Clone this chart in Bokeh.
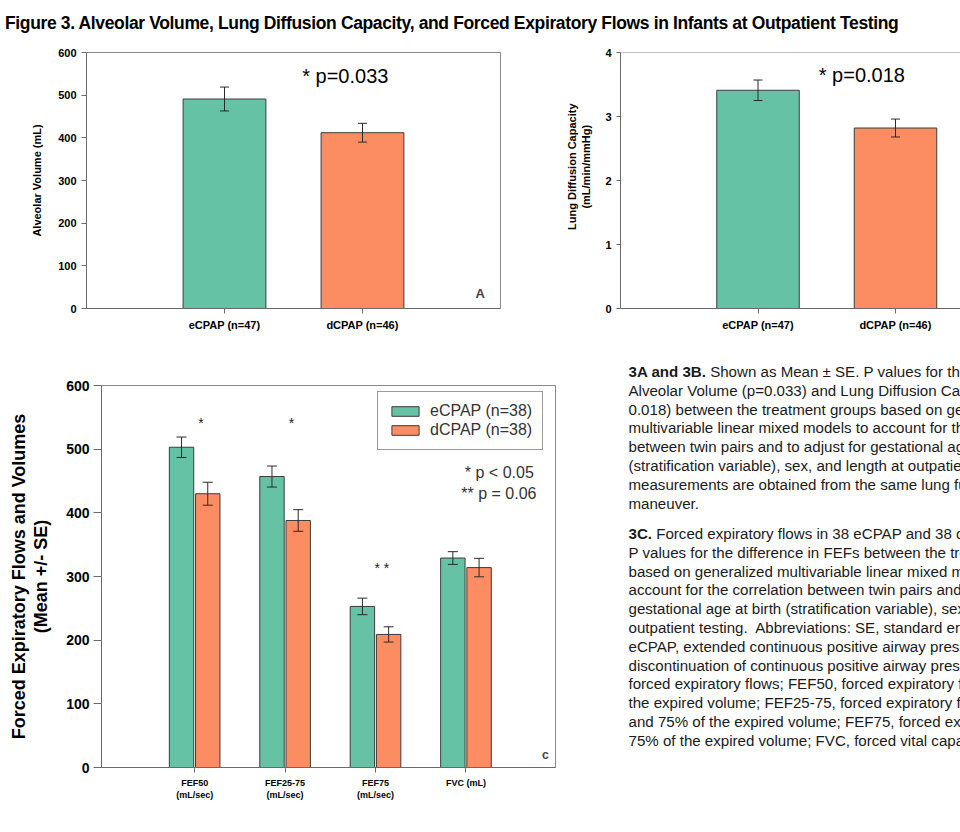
from bokeh.plotting import figure
from bokeh.models import (ColumnDataSource, Whisker, TeeHead, FixedTicker, Span,
                          Label, Div)
from bokeh.layouts import column, row
from bokeh.embed import file_html
from bokeh.resources import INLINE
from bokeh.core.properties import value
import numpy as np

# ---------------- data ----------------
TITLE = ("Figure 3. Alveolar Volume, Lung Diffusion Capacity, and Forced "
         "Expiratory Flows in Infants at Outpatient Testing")

groups_ab = ["eCPAP (n=47)", "dCPAP (n=46)"]
alv_mean = [491, 412]
alv_se = [28, 22]
dlco_mean = [3.41, 2.82]
dlco_se = [0.16, 0.14]

fef_cats = ["FEF50\n(mL/sec)", "FEF25-75\n(mL/sec)", "FEF75\n(mL/sec)", "FVC (mL)"]
ecpap_fef = [503, 457, 253, 329]
ecpap_fef_se = [16, 16.5, 13, 10]
dcpap_fef = [430, 388, 209, 314]
dcpap_fef_se = [18, 17, 12, 14.5]
sig_marks = ["*", "*", "* *", ""]
legend_labels = ["eCPAP (n=38)", "dCPAP (n=38)"]

yticks_a = [0, 100, 200, 300, 400, 500, 600]
yticks_b = [0, 1, 2, 3, 4]
yticks_c = [0, 100, 200, 300, 400, 500, 600]

para1 = [
    "<b>3A and 3B.</b> Shown as Mean \u00b1 SE. P values for the difference",
    "Alveolar Volume (p=0.033) and Lung Diffusion Capacity (p=",
    "0.018) between the treatment groups based on generalized",
    "multivariable linear mixed models to account for the correlation",
    "between twin pairs and to adjust for gestational age at birth",
    "(stratification variable), sex, and length at outpatient testing.",
    "measurements are obtained from the same lung function",
    "maneuver.",
]
para2 = [
    "<b>3C.</b> Forced expiratory flows in 38 eCPAP and 38 dCPAP",
    "P values for the difference in FEFs between the treatment",
    "based on generalized multivariable linear mixed models to",
    "account for the correlation between twin pairs and to adjust",
    "gestational age at birth (stratification variable), sex, and",
    "outpatient testing.&nbsp; Abbreviations: SE, standard error;",
    "eCPAP, extended continuous positive airway pressure;",
    "discontinuation of continuous positive airway pressure;",
    "forced expiratory flows; FEF50, forced expiratory flow at",
    "the expired volume; FEF25-75, forced expiratory flow between",
    "and 75% of the expired volume; FEF75, forced expiratory flow",
    "75% of the expired volume; FVC, forced vital capacity.",
]

# ---------------- style ----------------
FONT = "Liberation Sans"
GREEN = "#66C2A5"
ORANGE = "#FC8D62"
BAR_LINE = "#3c3c3c"
ERR = "#2a2a2a"
NB = "\u00a0"


def base_style(p, tick_font_size, tick_out, standoff, label_size, label_standoff):
    p.xgrid.grid_line_color = None
    p.ygrid.grid_line_color = None
    p.background_fill_color = "white"
    p.border_fill_color = "white"
    for ax in (p.xaxis[0], p.yaxis[0]):
        ax.axis_line_color = "#6a6a6a"
        ax.major_tick_line_color = "#6a6a6a"
        ax.minor_tick_line_color = None
        ax.major_tick_in = 0
        ax.major_label_text_font = FONT
        ax.major_label_text_font_style = "bold"
        ax.major_label_text_color = "black"
        ax.axis_label_text_font = FONT
        ax.axis_label_text_font_style = "bold"
        ax.axis_label_text_color = "black"
    p.yaxis.major_tick_out = tick_out
    p.yaxis.major_label_standoff = standoff
    p.yaxis.major_label_text_font_size = tick_font_size
    p.yaxis.axis_label_text_font_size = label_size
    p.yaxis.axis_label_standoff = label_standoff
    p.xaxis.major_tick_out = 5
    p.xaxis.major_label_standoff = 5


def add_whisker(p, x, mean, se, head):
    src = ColumnDataSource(dict(
        x=x,
        upper=[m + s for m, s in zip(mean, se)],
        lower=[m - s for m, s in zip(mean, se)],
    ))
    w = Whisker(base="x", upper="upper", lower="lower", source=src,
                dimension="height", line_color=ERR, line_width=1,
                level="annotation",
                upper_head=TeeHead(size=head, line_color=ERR, line_width=1),
                lower_head=TeeHead(size=head, line_color=ERR, line_width=1))
    p.add_layout(w)


# ---------------- panel A ----------------
xa = np.arange(1, len(groups_ab) + 1)
pA = figure(width=540, height=313, x_range=(0, 3), y_range=(0, 600),
            output_backend="svg", toolbar_location=None,
            min_border_left=86, min_border_right=40,
            min_border_top=8, min_border_bottom=47)
pA.outline_line_color = "#888888"
pA.vbar(x=xa, top=alv_mean, width=0.6, fill_color=[GREEN, ORANGE],
        line_color=BAR_LINE, line_width=1)
add_whisker(pA, xa, alv_mean, alv_se, 9)
base_style(pA, "11px", 5, 5, "11px", 12)
pA.yaxis.ticker = FixedTicker(ticks=yticks_a)
pA.xaxis.ticker = FixedTicker(ticks=[float(v) for v in xa])
pA.xaxis.major_label_overrides = {float(v): g for v, g in zip(xa, groups_ab)}
pA.xaxis.major_label_text_font_size = "11px"
pA.yaxis.axis_label = "Alveolar Volume (mL)"
pA.add_layout(Label(x=1.563, y=518, text="* p=0.033", text_font=FONT,
                    text_font_size="20px", text_color="black"))
pA.add_layout(Label(x=2.819, y=18.6, text="A", text_font=FONT,
                    text_font_style="bold", text_font_size="13px"))

# ---------------- panel B ----------------
xb = np.arange(1, len(groups_ab) + 1)
pB = figure(width=420, height=313, x_range=(0, 2.4727), y_range=(0, 4),
            output_backend="svg", toolbar_location=None,
            min_border_left=80, min_border_right=0,
            min_border_top=10, min_border_bottom=43)
pB.outline_line_color = None
pB.add_layout(Span(location=4, dimension="width", line_color="#888888", line_width=1))
pB.vbar(x=xb, top=dlco_mean, width=0.6, fill_color=[GREEN, ORANGE],
        line_color=BAR_LINE, line_width=1)
add_whisker(pB, xb, dlco_mean, dlco_se, 9)
base_style(pB, "11px", 4, 5, "11px", 10)
pB.yaxis.ticker = FixedTicker(ticks=yticks_b)
pB.xaxis.ticker = FixedTicker(ticks=[float(v) for v in xb])
pB.xaxis.major_label_overrides = {float(v): g for v, g in zip(xb, groups_ab)}
pB.xaxis.major_label_text_font_size = "11px"
pB.yaxis.axis_label = (NB * 9 + "Lung Diffusion Capacity\n" + NB * 9 + "(mL/min/mmHg)")
pB.yaxis.axis_label_text_line_height = 1.2
pB.add_layout(Label(x=1.442, y=3.477, text="* p=0.018", text_font=FONT,
                    text_font_size="20px", text_color="black"))

# ---------------- panel C ----------------
xc = np.arange(1, len(fef_cats) + 1)
off = 0.145
pC = figure(width=570, height=475, x_range=(-0.03, 4.99), y_range=(0, 600),
            output_backend="svg", toolbar_location=None,
            min_border_left=101, min_border_right=15,
            min_border_top=30, min_border_bottom=63)
pC.outline_line_color = "#888888"
pC.vbar(x=xc - off, top=ecpap_fef, width=0.27, fill_color=GREEN,
        line_color=BAR_LINE, line_width=1, legend_label=legend_labels[0])
pC.vbar(x=xc + off, top=dcpap_fef, width=0.27, fill_color=ORANGE,
        line_color=BAR_LINE, line_width=1, legend_label=legend_labels[1])
add_whisker(pC, xc - off, ecpap_fef, ecpap_fef_se, 10)
add_whisker(pC, xc + off, dcpap_fef, dcpap_fef_se, 10)
base_style(pC, "14px", 8, 4, "18px", 12)
pC.yaxis.ticker = FixedTicker(ticks=yticks_c)
pC.xaxis.ticker = FixedTicker(ticks=[float(v) for v in xc])
pC.xaxis.major_label_overrides = {float(v): c for v, c in zip(xc, fef_cats)}
pC.xaxis.major_label_text_font_size = "9px"
pC.xaxis.major_label_text_line_height = 1.2
pC.yaxis.axis_label = "Forced Expiratory Flows and Volumes\n(Mean +/- SE)"
pC.yaxis.axis_label_text_line_height = 1.1

sig_y = [541, 541, 313, 0]
pC.text(x=xc + 0.07, y=sig_y, text=sig_marks, text_font=value(FONT),
        text_font_size="14px", text_align="center", text_baseline="alphabetic",
        text_color="#222222")
pC.add_layout(Label(x=4.75, y=464, text="* p < 0.05", text_font=FONT,
                    text_font_size="16px", text_align="right",
                    text_baseline="middle", text_color="#333333"))
pC.add_layout(Label(x=4.78, y=430.7, text="** p = 0.06", text_font=FONT,
                    text_font_size="16px", text_align="right",
                    text_baseline="middle", text_color="#333333"))
pC.add_layout(Label(x=4.84, y=9.4, text="c", text_font=FONT,
                    text_font_style="bold", text_font_size="12px"))

lg = pC.legend[0]
lg.location = (276, 317)
lg.margin = 0
lg.padding = 10
lg.spacing = 1
lg.glyph_width = 34
lg.glyph_height = 12
lg.label_standoff = 8
lg.label_height = 14
lg.label_text_font = FONT
lg.label_text_font_size = "16px"
lg.label_text_color = "#333333"
lg.border_line_color = "#333333"
lg.border_line_width = 1
lg.background_fill_color = "white"

# ---------------- text ----------------
title_div = Div(
    text=("<div style=\"padding-left:5px;padding-top:13px;line-height:20px;"
          "white-space:nowrap;font-family:'Liberation Sans Narrow','Liberation Sans';"
          "font-weight:bold;font-size:17.5px;letter-spacing:-0.36px;color:#000;\">"
          + TITLE + "</div>"),
    width=960, height=42, margin=0)

html = ("<div style=\"width:390px;height:475px;overflow:hidden;white-space:nowrap;"
        "box-sizing:border-box;padding-left:58.5px;padding-top:8px;"
        "font-family:'Liberation Sans';font-size:15.1px;line-height:18.8px;color:#1a1a1a;\">"
        + "<br>".join(para1)
        + "<div style=\"height:11.6px\"></div>"
        + "<br>".join(para2) + "</div>")
text_div = Div(text=html, width=390, height=475, margin=0)

layout = column(title_div, row(pA, pB), row(pC, text_div))

open("out.html", "w").write(file_html(layout, INLINE))
